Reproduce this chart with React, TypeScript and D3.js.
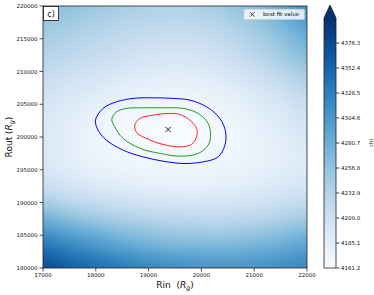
import React, { useMemo } from "react";
import * as d3 from "d3";

// Grid of the chi surface
const rinGrid = [17000, 17500, 18000, 18500, 19000, 19500, 20000, 20500, 21000, 21500, 22000];
const routGrid = [220000, 216000, 212000, 208000, 204000, 200000, 196000, 192000, 188000, 184000, 180000];
const chiGrid = [
  [4264.0, 4256.8, 4249.6, 4242.5, 4237.7, 4235.3, 4240.1, 4249.6, 4264.0, 4285.5, 4311.8],
  [4247.2, 4240.1, 4232.9, 4225.7, 4221.0, 4218.6, 4221.0, 4230.5, 4244.9, 4264.0, 4285.5],
  [4230.5, 4223.3, 4216.2, 4209.0, 4201.8, 4199.4, 4201.8, 4211.4, 4225.7, 4242.5, 4261.6],
  [4213.8, 4204.2, 4197.1, 4187.5, 4182.7, 4180.3, 4182.7, 4189.9, 4201.8, 4216.2, 4232.9],
  [4199.4, 4189.9, 4180.3, 4173.2, 4168.4, 4166.0, 4168.4, 4175.5, 4185.1, 4197.1, 4211.4],
  [4194.7, 4185.1, 4173.2, 4166.0, 4162.4, 4161.2, 4162.4, 4168.4, 4177.9, 4187.5, 4199.4],
  [4197.1, 4187.5, 4177.9, 4173.2, 4170.8, 4170.8, 4172.0, 4173.2, 4177.9, 4185.1, 4192.3],
  [4221.0, 4209.0, 4199.4, 4192.3, 4187.5, 4185.1, 4185.1, 4187.5, 4192.3, 4199.4, 4206.6],
  [4271.1, 4256.8, 4244.9, 4235.3, 4228.1, 4223.3, 4221.0, 4221.0, 4225.7, 4232.9, 4242.5],
  [4328.5, 4311.8, 4297.4, 4283.1, 4273.5, 4266.4, 4264.0, 4264.0, 4268.8, 4275.9, 4285.5],
  [4371.5, 4357.2, 4342.8, 4330.9, 4318.9, 4311.8, 4307.0, 4304.6, 4307.0, 4311.8, 4318.9],
];

const xTicks = [17000, 18000, 19000, 20000, 21000, 22000];
const yTicks = [180000, 185000, 190000, 195000, 200000, 205000, 210000, 215000, 220000];
const cbarTicks = [4161.2, 4185.1, 4209.0, 4232.9, 4256.8, 4280.7, 4304.6, 4328.5, 4352.4, 4376.3];
const chiMin = 4161.2;
const chiMax = 4400.2;

const bestFitRin = 19370;
const bestFitRout = 201150;

// Confidence contours (Rin, Rout)
const contourRed: [number, number][] = [
  [18739, 201811], [18771, 200695], [18960, 199778], [19275, 198861], [19592, 198494],
  [19814, 198861], [19908, 200023], [19908, 201306], [19781, 202575], [19592, 203447],
  [19402, 203600], [19086, 203339], [18834, 202835],
];
const contourGreen: [number, number][] = [
  [18303, 202728], [18359, 201551], [18517, 199778], [18842, 198249], [19222, 197485],
  [19592, 197072], [19939, 197485], [20128, 198754], [20174, 200282], [20128, 202071],
  [19939, 203600], [19654, 204364], [19275, 204456], [18896, 204456], [18581, 204364],
  [18392, 203844],
];
const contourBlue: [number, number][] = [
  [17994, 202575], [18043, 201047], [18202, 199518], [18517, 197990], [18896, 196966],
  [19275, 196308], [19654, 195957], [20034, 196201], [20318, 196966], [20445, 198754],
  [20458, 200787], [20350, 202835], [20098, 204608], [19781, 205632], [19465, 205892],
  [19086, 205984], [18706, 205892], [18392, 205372], [18138, 204364],
];

const FONT = "DejaVu Sans, sans-serif";

function cubic(p0: number, p1: number, p2: number, p3: number, t: number) {
  return (
    p1 +
    0.5 * t * (p2 - p0 + t * (2 * p0 - 5 * p1 + 4 * p2 - p3 + t * (3 * (p1 - p2) + p3 - p0)))
  );
}

export default function App() {
  const W = 374;
  const H = 295;
  const X0 = 43, X1 = 307, Y0 = 6, Y1 = 268;
  const x = d3.scaleLinear().domain([17000, 22000]).range([X0, X1]);
  const y = d3.scaleLinear().domain([180000, 220000]).range([Y1, Y0]);
  const color = d3.scaleSequential(d3.interpolateBlues).domain([chiMin, chiMax]).clamp(true);
  const cb = d3.scaleLinear().domain([chiMin, chiMax]).range([268, 18]);

  const gx = d3.scaleLinear().domain([rinGrid[0], rinGrid[rinGrid.length - 1]]).range([0, rinGrid.length - 1]);
  const gy = d3.scaleLinear().domain([routGrid[0], routGrid[routGrid.length - 1]]).range([0, routGrid.length - 1]);

  const href = useMemo(() => {
    const w = X1 - X0, h = Y1 - Y0;
    const canvas = document.createElement("canvas");
    canvas.width = w;
    canvas.height = h;
    const ctx = canvas.getContext("2d");
    if (!ctx) return "";
    const img = ctx.createImageData(w, h);
    const nr = routGrid.length, nc = rinGrid.length;
    const at = (r: number, c: number) =>
      chiGrid[Math.max(0, Math.min(nr - 1, r))][Math.max(0, Math.min(nc - 1, c))];
    for (let j = 0; j < h; j++) {
      const fy = gy(y.invert(Y0 + j + 0.5));
      const r = Math.min(nr - 2, Math.floor(fy));
      const ty = fy - r;
      for (let i = 0; i < w; i++) {
        const fx = gx(x.invert(X0 + i + 0.5));
        const c = Math.min(nc - 2, Math.floor(fx));
        const tx = fx - c;
        const rows = [-1, 0, 1, 2].map((dr) =>
          cubic(at(r + dr, c - 1), at(r + dr, c), at(r + dr, c + 1), at(r + dr, c + 2), tx)
        );
        const v = cubic(rows[0], rows[1], rows[2], rows[3], ty);
        const col = d3.rgb(color(v));
        const k = (j * w + i) * 4;
        img.data[k] = col.r;
        img.data[k + 1] = col.g;
        img.data[k + 2] = col.b;
        img.data[k + 3] = 255;
      }
    }
    ctx.putImageData(img, 0, 0);
    return canvas.toDataURL();
  }, []);

  const line = d3
    .line<[number, number]>()
    .x((d) => x(d[0]))
    .y((d) => y(d[1]))
    .curve(d3.curveCatmullRomClosed);

  const stops = d3.range(0, 1.0001, 0.05);
  const bx = x(bestFitRin), by = y(bestFitRout);
  const m = 2.6;

  return (
    <svg width={W} height={H} style={{ position: "absolute", left: 0, top: 0 }} fontFamily={FONT}>
      <defs>
        <linearGradient id="cbg" x1="0" y1="1" x2="0" y2="0">
          {stops.map((s) => (
            <stop key={s} offset={s} stopColor={color(chiMin + s * (chiMax - chiMin))} />
          ))}
        </linearGradient>
      </defs>
      <rect width={W} height={H} fill="white" />
      {href && (
        <image href={href} x={X0} y={Y0} width={X1 - X0} height={Y1 - Y0} preserveAspectRatio="none" />
      )}
      <path d={line(contourBlue) || ""} fill="none" stroke="#0000ff" strokeWidth={1} />
      <path d={line(contourGreen) || ""} fill="none" stroke="#1f9a1f" strokeWidth={1} />
      <path d={line(contourRed) || ""} fill="none" stroke="#ff2020" strokeWidth={1} />
      <g stroke="#222" strokeWidth={1}>
        <line x1={bx - m} y1={by - m} x2={bx + m} y2={by + m} />
        <line x1={bx - m} y1={by + m} x2={bx + m} y2={by - m} />
      </g>
      <rect x={X0} y={Y0} width={X1 - X0} height={Y1 - Y0} fill="none" stroke="#222" strokeWidth={0.8} />

      {/* panel label */}
      <rect x={43.5} y={6.5} width={15} height={14} fill="white" stroke="#111" strokeWidth={0.8} />
      <text x={51} y={16.8} fontSize={8} textAnchor="middle" fill="#111">c)</text>

      {/* legend */}
      <rect x={244} y={9.3} width={60.5} height={10.2} rx={1} fill="white" fillOpacity={0.8} stroke="#ccc" strokeWidth={0.6} />
      <g stroke="#222" strokeWidth={0.9}>
        <line x1={252.3 - 2.2} y1={14.4 - 2.2} x2={252.3 + 2.2} y2={14.4 + 2.2} />
        <line x1={252.3 - 2.2} y1={14.4 + 2.2} x2={252.3 + 2.2} y2={14.4 - 2.2} />
      </g>
      <text x={263} y={16.4} fontSize={5.5} fill="#111">best fit value</text>

      {/* x axis */}
      {xTicks.map((t) => (
        <g key={t}>
          <line x1={x(t)} x2={x(t)} y1={Y1} y2={Y1 + 3.5} stroke="#222" strokeWidth={0.8} />
          <text x={x(t)} y={277} fontSize={5.5} textAnchor="middle" fill="#111">{t}</text>
        </g>
      ))}
      {/* y axis */}
      {yTicks.map((t) => (
        <g key={t}>
          <line x1={X0 - 3.5} x2={X0} y1={y(t)} y2={y(t)} stroke="#222" strokeWidth={0.8} />
          <text x={37.5} y={y(t) + 2} fontSize={5.5} textAnchor="end" fill="#111">{t}</text>
        </g>
      ))}
      <text x={(X0 + X1) / 2} y={288} fontSize={9} textAnchor="middle" fill="#111">
        Rin{"\u00a0\u00a0"}(<tspan fontStyle="italic">R</tspan>
        <tspan fontStyle="italic" fontSize={6.3} dy={1.8}>g</tspan>
        <tspan dy={-1.8}>)</tspan>
      </text>
      <text transform={`translate(12,${(Y0 + Y1) / 2}) rotate(-90)`} fontSize={9} textAnchor="middle" fill="#111">
        Rout (<tspan fontStyle="italic">R</tspan>
        <tspan fontStyle="italic" fontSize={6.3} dy={1.8}>g</tspan>
        <tspan dy={-1.8}>)</tspan>
      </text>

      {/* colorbar */}
      <rect x={324} y={cb(chiMax)} width={12} height={cb(chiMin) - cb(chiMax)} fill="url(#cbg)" />
      <path d={`M324,${cb(chiMax)} L330,5 L336,${cb(chiMax)} Z`} fill={d3.interpolateBlues(1)} />
      <path
        d={`M324,${cb(chiMin)} L324,${cb(chiMax)} L330,5 L336,${cb(chiMax)} L336,${cb(chiMin)} Z`}
        fill="none"
        stroke="#222"
        strokeWidth={0.8}
      />
      {cbarTicks.map((t) => (
        <g key={t}>
          <line x1={336} x2={339.5} y1={cb(t)} y2={cb(t)} stroke="#222" strokeWidth={0.8} />
          <text x={341} y={cb(t) + 2} fontSize={5.5} fill="#111">{t.toFixed(1)}</text>
        </g>
      ))}
      <text transform={`translate(372.5,143) rotate(-90)`} fontSize={5.5} textAnchor="middle" fill="#111">chi</text>
    </svg>
  );
}
